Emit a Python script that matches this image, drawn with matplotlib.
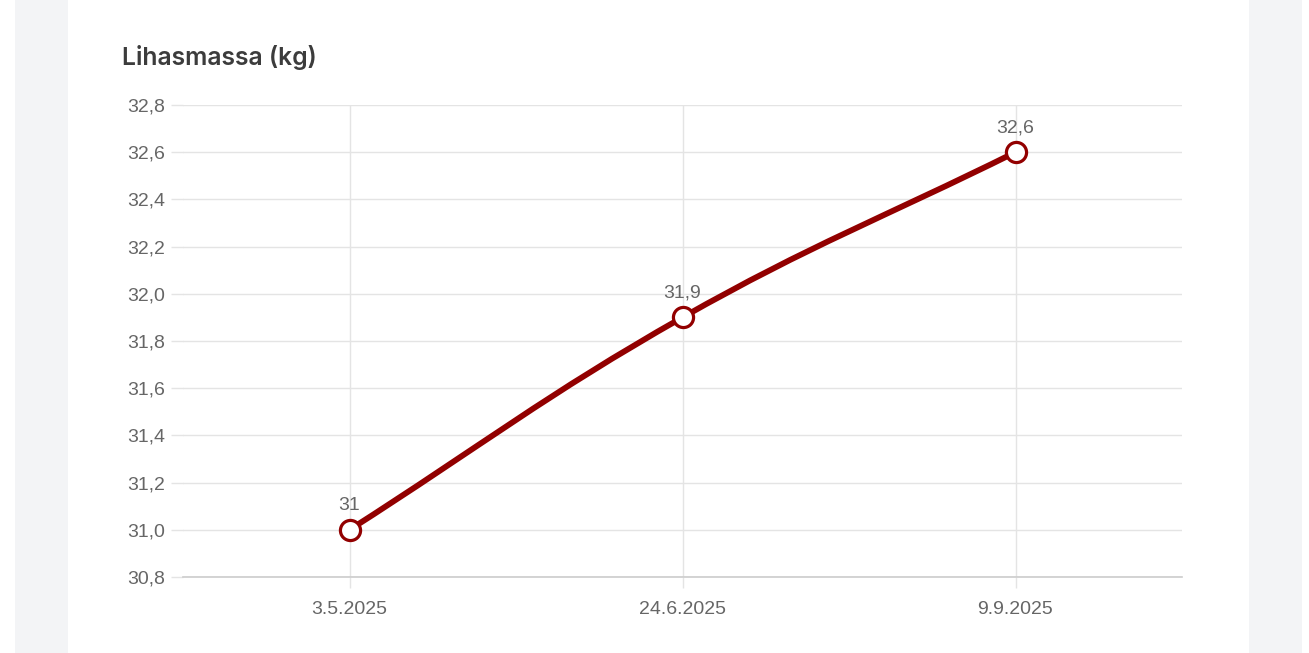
import numpy as np
import matplotlib.pyplot as plt
from matplotlib.path import Path
from matplotlib.patches import PathPatch, Rectangle

# data
dates = ['3.5.2025', '24.6.2025', '9.9.2025']
lihasmassa = [31.0, 31.9, 32.6]
point_labels = ['31', '31,9', '32,6']
y_ticks = [30.8, 31.0, 31.2, 31.4, 31.6, 31.8, 32.0, 32.2, 32.4, 32.6, 32.8]

W, H = 1309, 653
fig = plt.figure(figsize=(W / 100, H / 100), dpi=100)
fig.patch.set_facecolor('white')

def px(x0, y0, x1, y1):
    # pixel box (top-left origin) -> figure fraction
    return [x0 / W, 1 - y1 / H, (x1 - x0) / W, (y1 - y0) / H]

# page background bands
bg = fig.add_axes([0, 0, 1, 1], zorder=-5)
bg.set_xlim(0, W); bg.set_ylim(H, 0); bg.axis('off')
bg.add_patch(Rectangle((15, 0), 53, H, color='#f3f4f6', lw=0))
bg.add_patch(Rectangle((1249, 0), 53, H, color='#f3f4f6', lw=0))

ax = fig.add_axes(px(183, 105, 1182, 577))
ax.set_facecolor('none')
x = np.arange(len(dates))
ax.set_xlim(-0.5, len(dates) - 0.5)
ax.set_ylim(30.8, 32.8)

ax.set_yticks(y_ticks)
ax.set_yticklabels([f'{v:.1f}'.replace('.', ',') for v in y_ticks])
ax.set_xticks(x)
ax.set_xticklabels(dates)
ax.grid(True, color='#e4e4e4', lw=1)
ax.set_axisbelow(True)
for s in ['top', 'right', 'left']:
    ax.spines[s].set_visible(False)
ax.spines['bottom'].set_color('#cccccc')
ax.spines['bottom'].set_linewidth(1.2)
ax.tick_params(axis='y', length=9, width=1, color='#e4e4e4', pad=4,
               labelsize=14, labelcolor='#666666')
ax.tick_params(axis='x', length=8, width=1, color='#e4e4e4', pad=9,
               labelsize=14, labelcolor='#666666')
for t in ax.get_xticklabels() + ax.get_yticklabels():
    t.set_fontfamily('Liberation Sans')

# smooth curve like chart.js (tension 0.4), control points in pixel space
tension = 0.4
pts = ax.transData.transform(np.column_stack([x, lihasmassa]))
n = len(pts)
verts = [pts[0]]
codes = [Path.MOVETO]
cps = []
for i in range(n):
    prev = pts[max(i - 1, 0)]
    cur = pts[i]
    nxt = pts[min(i + 1, n - 1)]
    d01 = np.hypot(*(cur - prev))
    d12 = np.hypot(*(nxt - cur))
    s01 = d01 / (d01 + d12) if d01 + d12 else 0
    s12 = d12 / (d01 + d12) if d01 + d12 else 0
    cps.append((cur - tension * s01 * (nxt - prev), cur + tension * s12 * (nxt - prev)))
for i in range(n - 1):
    verts += [cps[i][1], cps[i + 1][0], pts[i + 1]]
    codes += [Path.CURVE4] * 3
verts = ax.transData.inverted().transform(np.array(verts))
ax.add_patch(PathPatch(Path(verts, codes), fill=False, edgecolor='#920000',
                       lw=4.2, capstyle='round', zorder=3))
ax.plot(x, lihasmassa, 'o', ms=14.5, mfc='white', mec='#920000', mew=2.3,
        zorder=4, clip_on=False)

for xi, yi, lab in zip(x, lihasmassa, point_labels):
    ax.annotate(lab, (xi, yi), xytext=(0, 11.5), textcoords='offset points',
                ha='center', va='bottom', fontsize=14, color='#666666',
                family='Liberation Sans')

fig.text(122 / W, 1 - 58 / H, 'Lihasmassa (kg)', ha='left', va='center',
         fontsize=17.8, color='#3c3c3c', family='Inter', fontweight='semibold')

fig.savefig('out.png', dpi=100)
